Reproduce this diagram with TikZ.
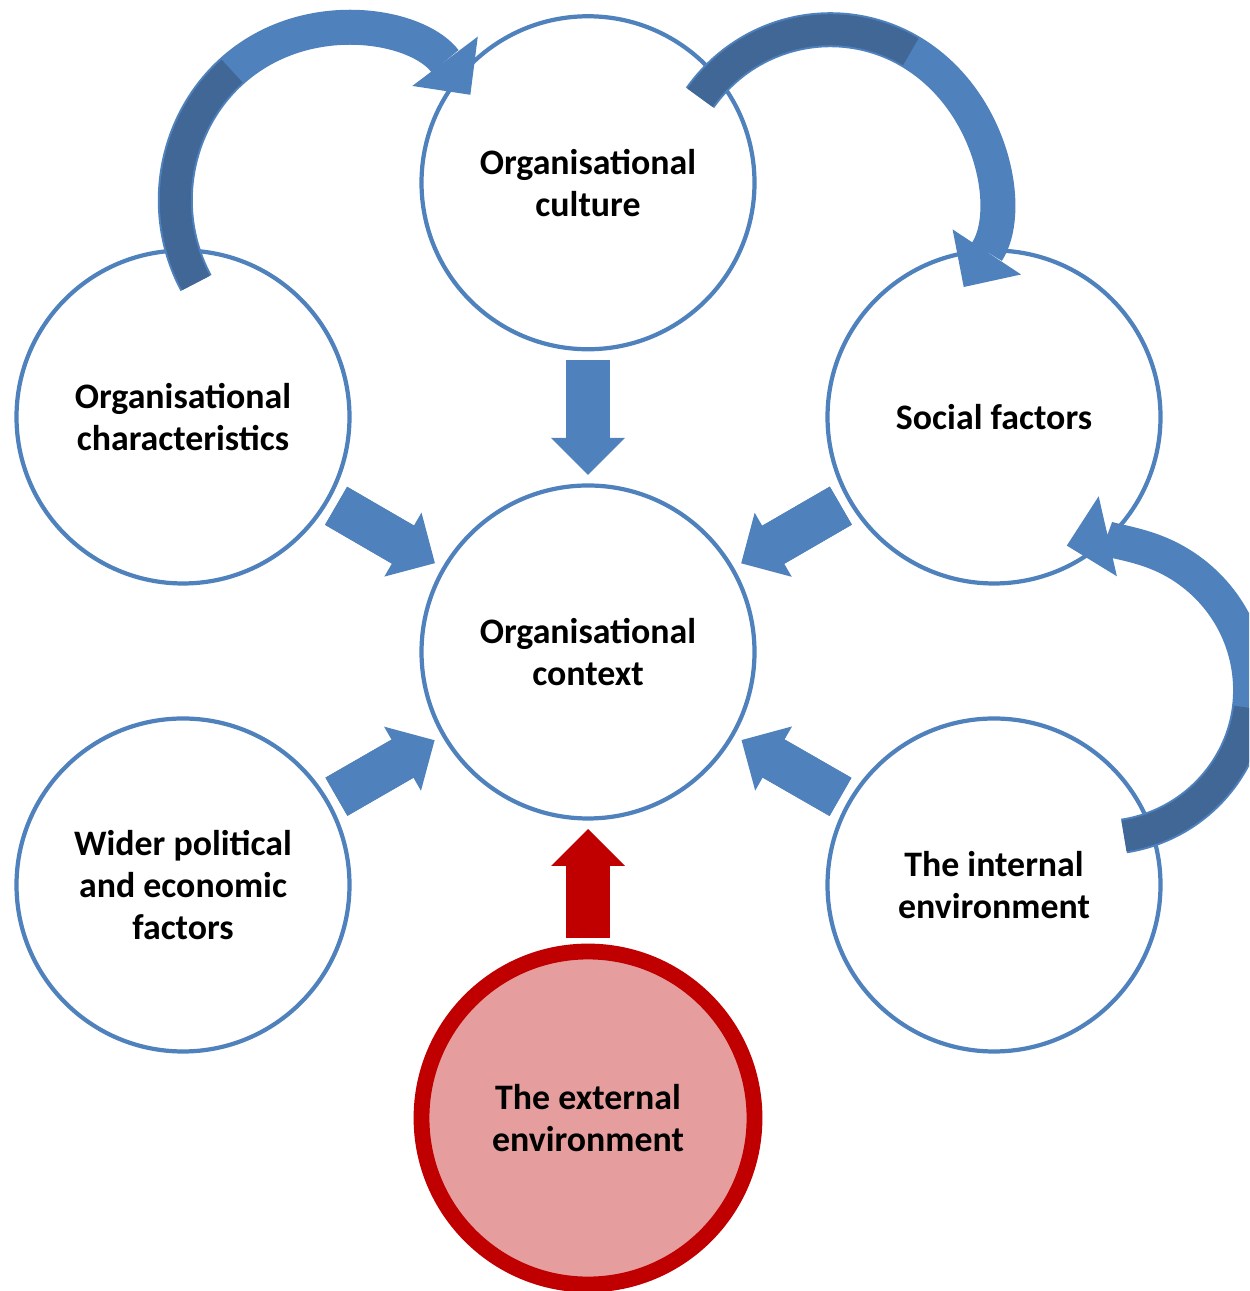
\documentclass[tikz,border=0pt]{standalone}
\usepackage{fontspec}
\setmainfont{Carlito}
\usetikzlibrary{arrows.meta, positioning, calc}

\definecolor{ofblue}{RGB}{79,129,189}
\definecolor{ofdark}{RGB}{65,103,151}
\definecolor{ofred}{RGB}{192,0,0}
\definecolor{ofpink}{RGB}{229,157,157}

\begin{document}
\begin{tikzpicture}[
    factor/.style={circle, draw=ofblue, line width=1.2pt, fill=white, minimum size=3.33cm, inner sep=0pt, align=center, font=\fontsize{10.2}{11.9}\selectfont\bfseries},
    shaft/.style={line width=4.4mm},
    bigarrow/.style={shaft, -{Triangle[length=3.7mm, width=7.4mm, line width=0pt]}},
    looparrow/.style={ofblue, line width=3.5mm, -{Triangle[length=4.2mm, width=8.2mm, line width=0pt]}},
    backside/.style={ofdark, line width=3.1mm}
]
    \useasboundingbox (0,0) rectangle (12.49,12.91);
    \clip (0,0) rectangle (12.49,12.91);

    % Context in the middle
    \node[factor] (ctx) at (5.88,6.39) {Organisational\\context};
    \node[factor, above=1.32cm of ctx] (culture) {Organisational\\culture};

    % Factors on both sides
    \node[factor] (chars) at (1.83,8.74) {Organisational\\characteristics};
    \node[factor] (social) at (9.94,8.74) {Social factors};
    \node[factor] (wider) at (1.83,4.06) {Wider political\\and economic\\factors};
    \node[factor] (internal) at (9.94,4.06) {The internal\\environment};

    % External environment below
    \node[factor, draw=ofred, fill=ofpink, line width=4.5pt, below=1.23cm of ctx] (external) {The external\\environment};

    % Block arrows into the context (shaft drawn on into the head, so no seam)
    \foreach \src/\col/\gap in {culture/ofblue/1.77cm, chars/ofblue/1.77cm, social/ofblue/1.77cm,
                               wider/ofblue/1.77cm, internal/ofblue/1.77cm, external/ofred/1.80cm} {
        \coordinate (\src-out) at ($(\src.center)!\gap!(ctx.center)$);
        \coordinate (\src-in) at ($(ctx.center)!1.77cm!(\src.center)$);
        \draw[bigarrow, \col] (\src-out) -- (\src-in);
        \draw[shaft, \col] (\src-out) -- ($(\src-in)!2.8mm!(\src-out)$);
    }

    % Curved arrows round the outside
    \draw[looparrow] ($(chars.center)+(0.13,1.34)$) coordinate (t1) arc[start angle=209, end angle=38, x radius=1.65cm, y radius=1.71cm];
    \draw[backside] (t1) arc[start angle=209, end angle=131, x radius=1.65cm, y radius=1.71cm];

    \draw[looparrow] ($(culture.center)+(1.12,0.85)$) coordinate (t2) arc[start angle=144, end angle=-34, x radius=1.61cm, y radius=1.65cm];
    \draw[backside] (t2) arc[start angle=144, end angle=60, x radius=1.61cm, y radius=1.65cm];

    \draw[looparrow] ($(internal.center)+(1.30,0.49)$) coordinate (t3) arc[start angle=-81, end angle=103, x radius=1.50cm, y radius=1.48cm];
    \draw[backside] (t3) arc[start angle=-81, end angle=-7, x radius=1.50cm, y radius=1.48cm];
\end{tikzpicture}
\end{document}
